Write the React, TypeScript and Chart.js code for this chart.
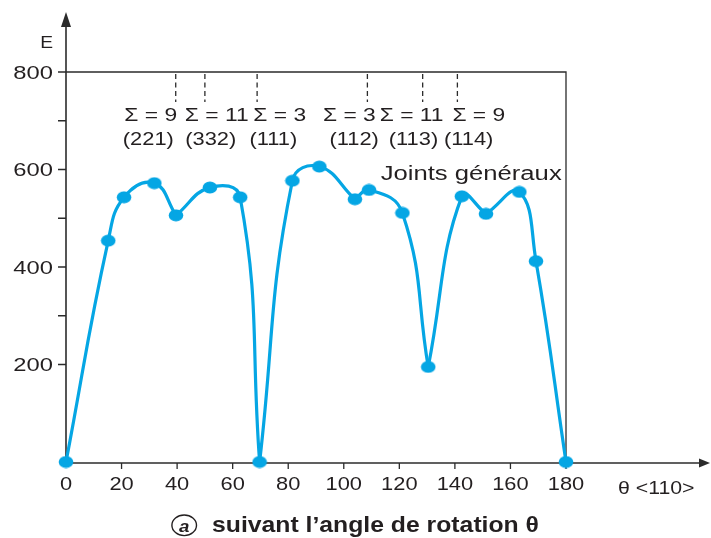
import React, { useEffect, useRef } from "react";
import { Chart, registerables } from "chart.js";

Chart.register(...registerables);

// Grain-boundary energy E versus rotation angle θ about <110>
const angles = [0, 15.2, 20.9, 31.8, 39.6, 51.8, 62.7, 69.7, 81.5, 91.2, 104.0, 109.1, 121.1, 130.4, 142.5, 151.2, 163.2, 169.2, 180];
const energies = [0, 454, 543, 572, 506, 563, 543, 0, 577, 606, 539, 558, 511, 195, 545, 509, 554, 412, 0];
// indices where the curve breaks into a cusp (special boundaries and ends)
const cuspIndices = [0, 4, 7, 10, 13, 15, 18];

const xTicks = [0, 20, 40, 60, 80, 100, 120, 140, 160, 180];
const yTicks = [200, 300, 400, 500, 600, 700, 800];
const yTickLabels = ["200", "", "400", "", "600", "", "800"];

// coincidence-site boundaries marked at the top of the frame
const sigmaAngles = [39.5, 50, 68.8, 108.5, 128.4, 140.9];
const sigmaLabels = ["Σ = 9", "Σ = 11", "Σ = 3", "Σ = 3", "Σ = 11", "Σ = 9"];
const planeLabels = ["(221)", "(332)", "(111)", "(112)", "(113)", "(114)"];

const generalLabel = "Joints généraux";
const xAxisTitle = "θ <110>";
const yAxisTitle = "E";
const captionLetter = "a";
const captionText = "suivant l’angle de rotation θ";

const BLUE = "#05a6e4";
const INK = "#231f20";
const FAMILY = "'Liberation Sans', Arial, Helvetica, sans-serif";

function wideText(
  ctx: CanvasRenderingContext2D,
  text: string,
  x: number,
  baseline: number,
  opts: { size: number; weight?: string; style?: string; align?: CanvasTextAlign; sx?: number; width?: number }
) {
  const { size, weight = "normal", style = "normal", align = "center" } = opts;
  ctx.save();
  ctx.font = `${style} ${weight} ${size}px ${FAMILY}`;
  ctx.textAlign = align;
  ctx.textBaseline = "alphabetic";
  let sx = opts.sx ?? 1.2;
  if (opts.width) sx = opts.width / ctx.measureText(text).width;
  ctx.translate(x, baseline);
  ctx.scale(sx, 1);
  ctx.fillStyle = INK;
  ctx.fillText(text, 0, 0);
  ctx.restore();
}

const framePlugin = {
  id: "frameAxes",
  beforeDatasetsDraw(chart: any) {
    const { ctx, scales } = chart;
    const xs = scales.x;
    const ys = scales.y;
    const x0 = xs.getPixelForValue(0);
    const xEnd = xs.getPixelForValue(180);
    const yBase = ys.getPixelForValue(0) + 1;
    const yTop = ys.getPixelForValue(800);
    ctx.save();
    ctx.strokeStyle = "#2b2b2b";
    ctx.fillStyle = "#2b2b2b";

    // top and right edges of the frame
    ctx.lineWidth = 1.3;
    ctx.beginPath();
    ctx.moveTo(x0, yTop);
    ctx.lineTo(xEnd, yTop);
    ctx.lineTo(xEnd, yBase);
    ctx.stroke();

    // vertical axis with arrow
    ctx.lineWidth = 1.6;
    ctx.beginPath();
    ctx.moveTo(x0, yBase);
    ctx.lineTo(x0, 24);
    ctx.stroke();
    ctx.beginPath();
    ctx.moveTo(x0, 12);
    ctx.lineTo(x0 - 5, 27);
    ctx.lineTo(x0 + 5, 27);
    ctx.closePath();
    ctx.fill();

    // horizontal axis with arrow
    ctx.lineWidth = 1.5;
    ctx.beginPath();
    ctx.moveTo(x0, yBase);
    ctx.lineTo(702, yBase);
    ctx.stroke();
    ctx.beginPath();
    ctx.moveTo(710, yBase);
    ctx.lineTo(699, yBase - 4.5);
    ctx.lineTo(699, yBase + 4.5);
    ctx.closePath();
    ctx.fill();

    // tick marks
    ctx.lineWidth = 1.3;
    ctx.beginPath();
    xTicks.forEach((v) => {
      if (v === 0) return;
      const px = xs.getPixelForValue(v);
      ctx.moveTo(px, yBase);
      ctx.lineTo(px, yBase + 6);
    });
    yTicks.forEach((v) => {
      const py = ys.getPixelForValue(v);
      ctx.moveTo(x0 - 8, py);
      ctx.lineTo(x0, py);
    });
    ctx.stroke();

    // dashed markers for special boundaries
    ctx.lineWidth = 1.3;
    ctx.setLineDash([5, 3.5]);
    ctx.beginPath();
    sigmaAngles.forEach((a) => {
      const px = xs.getPixelForValue(a);
      ctx.moveTo(px, yTop + 2);
      ctx.lineTo(px, yTop + 30);
    });
    ctx.stroke();
    ctx.restore();
  },
  afterDraw(chart: any) {
    const { ctx, scales } = chart;
    const xs = scales.x;
    const ys = scales.y;
    const x0 = xs.getPixelForValue(0);
    const yBase = ys.getPixelForValue(0);

    // axis numbers
    yTicks.forEach((v, i) => {
      if (!yTickLabels[i]) return;
      wideText(ctx, yTickLabels[i], x0 - 13, ys.getPixelForValue(v) + 6.8, { size: 19, align: "right", sx: 1.25 });
    });
    xTicks.forEach((v) => {
      wideText(ctx, String(v), xs.getPixelForValue(v), yBase + 28, { size: 19, align: "center", sx: 1.15 });
    });
    wideText(ctx, yAxisTitle, x0 - 13, 48, { size: 17, align: "right", sx: 1.13 });
    wideText(ctx, xAxisTitle, 618, yBase + 32, { size: 19, align: "left", sx: 1.12 });

    // Σ labels and their planes
    const sigmaDx = [-25, 11.8, 22.6, -18, -11, 21.4];
    const planeDx = [-27.4, 5.9, 16.2, -13.2, -9.2, 11.3];
    sigmaAngles.forEach((a, i) => {
      const px = xs.getPixelForValue(a);
      wideText(ctx, sigmaLabels[i], px + sigmaDx[i], 121, { size: 19, sx: 1.2 });
      wideText(ctx, planeLabels[i], px + planeDx[i], 145, { size: 19, sx: 1.15 });
    });

    wideText(ctx, generalLabel, 380.7, 180, { size: 20, align: "left", width: 181 });

    // caption
    ctx.save();
    ctx.strokeStyle = INK;
    ctx.lineWidth = 1.4;
    ctx.beginPath();
    ctx.ellipse(184.2, 525.3, 12.3, 10.3, 0, 0, Math.PI * 2);
    ctx.stroke();
    ctx.restore();
    wideText(ctx, captionLetter, 184.2, 531.5, { size: 17, weight: "bold", style: "italic", sx: 1.1 });
    wideText(ctx, captionText, 212, 531.5, { size: 22, weight: "bold", align: "left", width: 327 });
  },
};

function makeDot(): HTMLCanvasElement {
  const c = document.createElement("canvas");
  c.width = 16;
  c.height = 13;
  const g = c.getContext("2d")!;
  g.fillStyle = BLUE;
  g.beginPath();
  g.ellipse(8, 6.5, 7.3, 6, 0, 0, Math.PI * 2);
  g.fill();
  return c;
}

export default function App() {
  const canvasRef = useRef<HTMLCanvasElement | null>(null);

  useEffect(() => {
    if (!canvasRef.current) return;
    const points = angles.map((a, i) => ({ x: a, y: energies[i] }));
    const segments = cuspIndices.slice(0, -1).map((start, k) => ({
      data: points.slice(start, cuspIndices[k + 1] + 1),
      borderColor: BLUE,
      borderWidth: 3.2,
      pointRadius: 0,
      tension: 0.45,
      fill: false,
      clip: false as any,
    }));
    const chart = new Chart(canvasRef.current, {
      type: "line",
      data: {
        datasets: [
          ...segments,
          {
            data: points,
            showLine: false,
            pointStyle: makeDot(),
            pointRadius: 6,
            pointBackgroundColor: BLUE,
            pointBorderWidth: 0,
            clip: false as any,
          },
        ],
      },
      options: {
        animation: false,
        responsive: true,
        maintainAspectRatio: false,
        layout: { padding: { left: 66, right: 145, top: 72, bottom: 76 } },
        scales: {
          x: { type: "linear", min: 0, max: 180, display: false },
          y: { type: "linear", min: 0, max: 800, display: false },
        },
        plugins: { legend: { display: false }, tooltip: { enabled: false } },
        events: [],
      },
      plugins: [framePlugin],
    });
    return () => chart.destroy();
  }, []);

  return (
    <div style={{ position: "fixed", left: 0, top: 0, width: 711, height: 538, background: "#fff" }}>
      <canvas ref={canvasRef} />
    </div>
  );
}
